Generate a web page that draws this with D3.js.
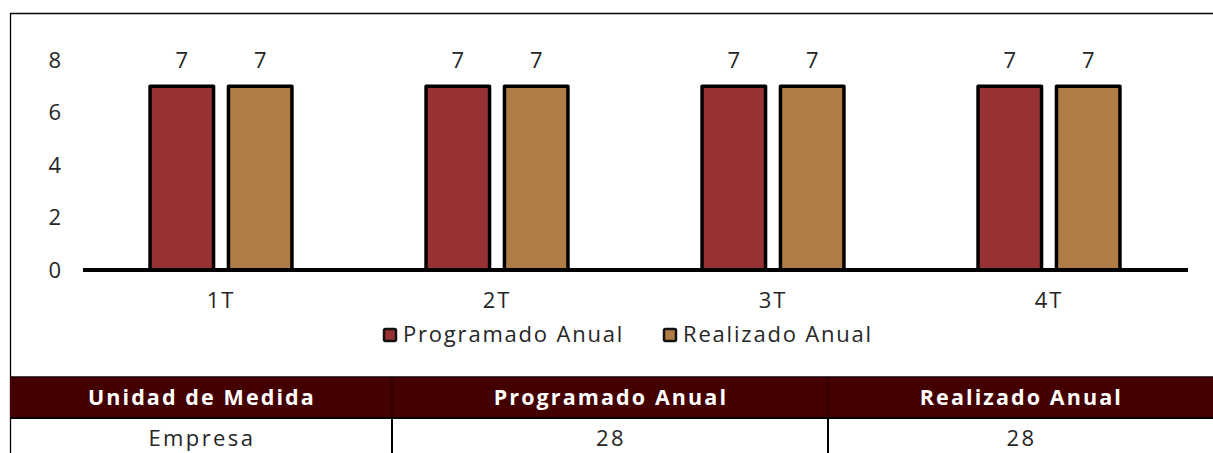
<!DOCTYPE html>
<html><head><meta charset="utf-8">
<script src="https://cdn.jsdelivr.net/npm/d3@7"></script>
<style>
html,body{margin:0;padding:0;background:#fff;}
svg{display:block;font-family:"Open Sans",sans-serif;}
</style></head>
<body>
<svg id="c" width="1213" height="453"></svg>
<script>
const categories = ["1T","2T","3T","4T"];
const seriesNames = ["Programado Anual","Realizado Anual"];
const programado = [7,7,7,7];
const realizado = [7,7,7,7];
const yTicks = [0,2,4,6,8];
const tableHeader = ["Unidad de Medida","Programado Anual","Realizado Anual"];
const tableRow = ["Empresa","28","28"];
const colors = ["#973133","#B07C46"];
const FONT = "'Open Sans', sans-serif";
const LS = 1.8;

const svg = d3.select("#c");
const W = 1213, H = 453;

// outer frame
svg.append("line").attr("x1",10).attr("x2",W).attr("y1",13.5).attr("y2",13.5).attr("stroke","#000").attr("stroke-width",1.3);
svg.append("line").attr("x1",10.5).attr("x2",10.5).attr("y1",13).attr("y2",H).attr("stroke","#000").attr("stroke-width",1.3);

const y = d3.scaleLinear().domain([0,8]).range([270,60]);
const x0 = d3.scaleBand().domain(categories).range([83,1187]).padding(0);
const x1 = d3.scaleBand().domain(seriesNames).range([0,x0.bandwidth()]).paddingInner(0.19).paddingOuter(0.855);

const data = categories.map((c,i)=>({cat:c, vals:[programado[i],realizado[i]]}));

// y axis
const yAxis = d3.axisLeft(y).tickValues(yTicks).tickSize(0).tickPadding(0);
const gy = svg.append("g").attr("transform","translate(61,0)").call(yAxis);
gy.select(".domain").remove();
gy.selectAll("text").attr("font-family",FONT).attr("font-size",22).attr("fill","#262626");

// bars
const groups = svg.append("g").selectAll("g").data(data).join("g")
  .attr("transform",d=>`translate(${x0(d.cat)},0)`);
groups.selectAll("rect").data(d=>d.vals.map((v,j)=>({v,s:seriesNames[j],j}))).join("rect")
  .attr("x",d=>x1(d.s)).attr("width",x1.bandwidth())
  .attr("y",d=>y(d.v)).attr("height",d=>y(0)-y(d.v))
  .attr("fill",d=>colors[d.j]).attr("stroke","#000").attr("stroke-width",3.5).attr("stroke-linejoin","round");
groups.selectAll("text.lbl").data(d=>d.vals.map((v,j)=>({v,s:seriesNames[j],j}))).join("text")
  .attr("class","lbl")
  .attr("x",d=>x1(d.s)+x1.bandwidth()/2).attr("y",d=>y(d.v)-18)
  .attr("text-anchor","middle").attr("font-family",FONT).attr("font-size",22).attr("fill","#262626")
  .text(d=>d.v);

// x axis
const xAxis = d3.axisBottom(x0).tickSize(0).tickPadding(0);
const gx = svg.append("g").attr("transform",`translate(0,${y(0)})`).call(xAxis);
gx.select(".domain").remove();
gx.selectAll("text").attr("font-family",FONT).attr("font-size",22).attr("fill","#262626")
  .attr("dy",null).attr("y",38).attr("letter-spacing",LS);
svg.append("line").attr("x1",83).attr("x2",1188).attr("y1",y(0)).attr("y2",y(0)).attr("stroke","#000").attr("stroke-width",4);

// legend
const legX = [383,663];
const leg = svg.append("g").selectAll("g").data(seriesNames).join("g")
  .attr("transform",(d,i)=>`translate(${legX[i]},328)`);
leg.append("rect").attr("x",1).attr("y",1).attr("width",12).attr("height",12).attr("rx",1.5)
  .attr("fill",(d,i)=>colors[i]).attr("stroke","#111").attr("stroke-width",2.5);
leg.append("text").attr("x",20).attr("y",14).attr("font-family",FONT).attr("font-size",22)
  .attr("letter-spacing",LS).attr("fill","#262626").text(d=>d);

// table
const cols = [10,392,828,W];
const hTop = 377, hBot = 418;
svg.append("rect").attr("x",10).attr("y",hTop).attr("width",W-10).attr("height",hBot-hTop).attr("fill","#440000");
svg.append("line").attr("x1",10).attr("x2",W).attr("y1",hTop).attr("y2",hTop).attr("stroke","#1a0000").attr("stroke-width",1.5);
svg.append("line").attr("x1",10).attr("x2",W).attr("y1",hBot).attr("y2",hBot).attr("stroke","#000").attr("stroke-width",2);
[1,2].forEach(i=>{
  svg.append("line").attr("x1",cols[i]).attr("x2",cols[i]).attr("y1",hTop).attr("y2",hBot).attr("stroke","#220000").attr("stroke-width",1);
  svg.append("line").attr("x1",cols[i]).attr("x2",cols[i]).attr("y1",hBot).attr("y2",H).attr("stroke","#000").attr("stroke-width",2);
});
tableHeader.forEach((t,i)=>{
  svg.append("text").attr("x",(cols[i]+cols[i+1])/2 + LS/2).attr("y",405).attr("text-anchor","middle")
    .attr("font-family",FONT).attr("font-weight","bold").attr("font-size",21.5).attr("letter-spacing",LS+0.3)
    .attr("fill","#fff").text(t);
});
tableRow.forEach((t,i)=>{
  svg.append("text").attr("x",(cols[i]+cols[i+1])/2 + LS/2).attr("y",446).attr("text-anchor","middle")
    .attr("font-family",FONT).attr("font-size",22).attr("letter-spacing",LS+0.6)
    .attr("fill","#262626").text(t);
});
</script>
</body></html>
